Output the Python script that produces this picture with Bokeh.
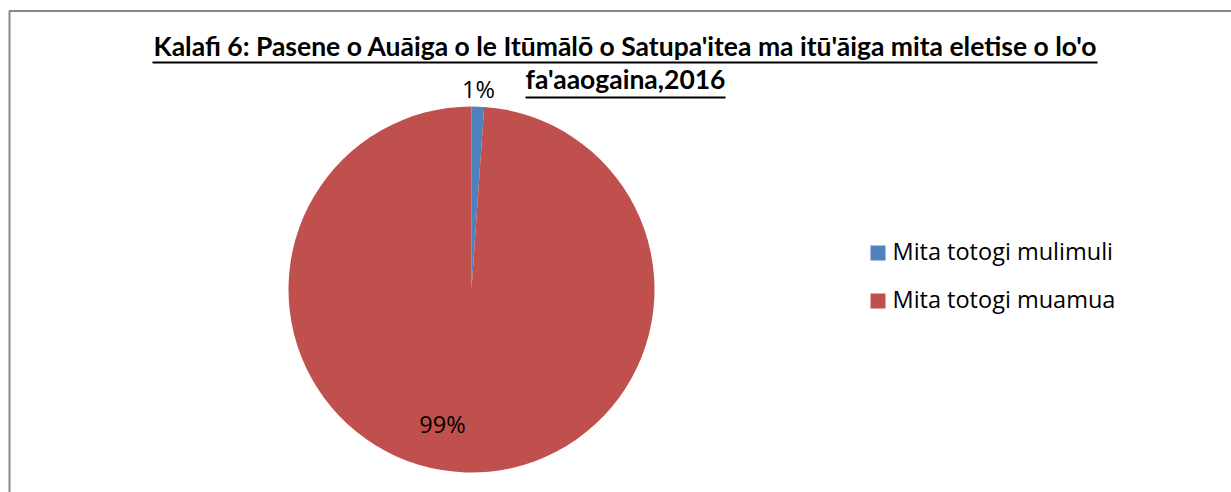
import numpy as np
from bokeh.plotting import figure
from bokeh.models import Range1d, ColumnDataSource
from bokeh.core.properties import value
from bokeh.embed import file_html
from bokeh.resources import INLINE

# ---- data ----
title_lines = [
    "Kalafi 6: Pasene o Auāiga o le Itūmālō o Satupa'itea ma itū'āiga mita eletise o lo'o",
    "fa'aaogaina,2016",
]
categories = ["Mita totogi mulimuli", "Mita totogi muamua"]
shares = [1.1, 98.9]
pct_labels = ["1%", "99%"]

# ---- styles / layout ----
colors = ["#4F81BD", "#C0504D"]
W, H = 1231, 492
OFF = 0
TITLE_FS = 26.5
BODY_FS = 23.5


def X(px):
    return px - OFF


def Y(py):
    return H - (py - OFF)


def YT(py, fs, k=0.48):
    # baseline position corrected for the renderer's text offset
    return Y(py - k * fs)


p = figure(width=W, height=H, x_range=Range1d(0, W), y_range=Range1d(0, H),
           output_backend="svg", toolbar_location=None, min_border=0,
           x_axis_location=None, y_axis_location=None, outline_line_color=None)
p.grid.visible = False
p.background_fill_color = "white"
p.border_fill_color = "white"

# chart area border (extends beyond the visible picture)
p.quad(left=[X(9)], right=[X(1241)], top=[Y(10.5)], bottom=[Y(520)],
       fill_color=None, line_color="#888888", line_width=2)

# pie
frac = np.array(shares, dtype=float) / np.sum(shares)
cum = np.cumsum(frac)
starts = np.pi / 2 - np.concatenate([[0.0], cum[:-1]]) * 2 * np.pi
ends = np.pi / 2 - cum * 2 * np.pi
src = ColumnDataSource(dict(cat=categories, start=starts, end=ends, color=colors))
p.wedge(x=X(471), y=Y(289), radius=183, start_angle="start", end_angle="end",
        direction="clock", fill_color="color", line_color=None, source=src)

# percentage labels
lbl_x = [X(478), X(442)]
lbl_y = [YT(98, BODY_FS, 0.42), YT(433, BODY_FS, 0.4)]
p.text(x=lbl_x, y=lbl_y, text=pct_labels, text_font=value("Open Sans"),
       text_font_size=f"{BODY_FS}px", text_align="center", text_baseline="alphabetic",
       text_color="black")

# title
p.text(x=[X(625), X(625)], y=[YT(58, TITLE_FS), YT(91, TITLE_FS)], text=title_lines,
       text_font=value("Lato"), text_font_style="bold",
       text_font_size=f"{TITLE_FS}px", text_align="center", text_baseline="alphabetic",
       text_color="black")
p.quad(left=[X(152), X(525)], right=[X(1097), X(725)],
       top=[Y(61), Y(96)], bottom=[Y(63), Y(98)], fill_color="black", line_color=None)

# legend
p.rect(x=[X(877.5)] * 2, y=[Y(252.5), Y(300.5)], width=15, height=15,
       fill_color=colors, line_color=None)
p.text(x=[X(892)] * 2, y=[YT(259, BODY_FS, 0.36), YT(307, BODY_FS, 0.36)], text=categories,
       text_font=value("Open Sans"), text_font_size=f"{BODY_FS}px",
       text_align="left", text_baseline="alphabetic", text_color="black")

open("out.html", "w").write(file_html(p, INLINE))
